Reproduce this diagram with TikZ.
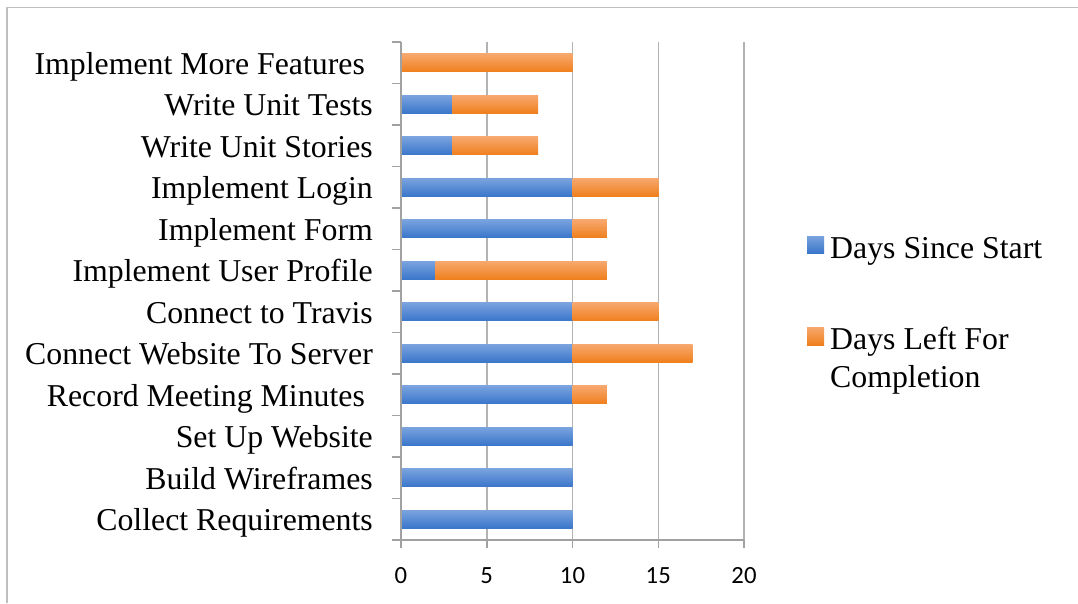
\documentclass[tikz,border=0pt]{standalone}
\usepackage{fontspec}
\setmainfont{Liberation Serif}
\newfontfamily\tickfont{Carlito}
\definecolor{gridgray}{HTML}{B3B3B3}
\definecolor{framegray}{HTML}{BFBFBF}
\definecolor{blueT}{HTML}{7AA3DE}
\definecolor{blueB}{HTML}{3A76CA}
\definecolor{orangeT}{HTML}{F7A86E}
\definecolor{orangeB}{HTML}{EF7F1C}
\begin{document}
\begin{tikzpicture}[x=1pt,y=-1pt,
  lbl/.style={anchor=base east, inner sep=0pt, font=\fontsize{31.8}{38}\selectfont},
  leglbl/.style={anchor=base west, inner sep=0pt, font=\fontsize{31.8}{38}\selectfont},
  ticklbl/.style={anchor=base, inner sep=0pt, font=\tickfont\fontsize{24.7}{30}\selectfont},
  bluebar/.style={top color=blueT, bottom color=blueB, draw=none},
  orangebar/.style={top color=orangeT, bottom color=orangeB, draw=none},
  gridln/.style={draw=gridgray, line width=1.5pt},
  axisln/.style={draw=gridgray!90!black, line width=1.5pt}]
\useasboundingbox (0,0) rectangle (1078,603);
\fill[white] (0,0) rectangle (1078,603);
% frame
\draw[framegray, line width=1.6pt] (7,603) -- (7,7.5) -- (1078,7.5);
% vertical gridlines
\foreach \v in {5,10,15,20}
  \draw[gridln] ({401+17.15*\v},42) -- ({401+17.15*\v},540);
% blue bars (row index / value)
\foreach \i/\b in {1/3,2/3,3/10,4/10,5/2,6/10,7/10,8/10,9/10,10/10,11/10}
  \path[bluebar] (401,{42+41.5*(\i+0.5)-9}) rectangle ({401+17.15*\b},{42+41.5*(\i+0.5)+9});
% orange bars (row index / start / length)
\foreach \i/\b/\o in {0/0/10,1/3/5,2/3/5,3/10/5,4/10/2,5/2/10,6/10/5,7/10/7,8/10/2}
  \path[orangebar] ({401+17.15*\b},{42+41.5*(\i+0.5)-9}) rectangle ({401+17.15*(\b+\o)},{42+41.5*(\i+0.5)+9});
% axes
\draw[axisln] (401,42) -- (401,540) -- (744,540);
\foreach \k in {0,...,12}
  \draw[axisln] (392,{42+41.5*\k}) -- (401,{42+41.5*\k});
\foreach \v in {0,5,10,15,20}
  \draw[axisln] ({401+17.15*\v},540) -- ({401+17.15*\v},548);
% tick labels
\foreach \v in {0,5,10,15,20}
  \node[ticklbl] (t\v) at ({401+17.15*\v},583) {\v};
% category labels
\node[lbl] (l0) at (373,{62.75+11.5}) {Implement More Features\kern0.25em\null};
\node[lbl] (l1) at (373,{104.25+11.5}) {Write Unit Tests};
\node[lbl] (l2) at (373,{145.75+11.5}) {Write Unit Stories};
\node[lbl] (l3) at (373,{187.25+11.5}) {Implement Login};
\node[lbl] (l4) at (373,{228.75+11.5}) {Implement Form};
\node[lbl] (l5) at (373,{270.25+11.5}) {Implement User Profile};
\node[lbl] (l6) at (373,{311.75+11.5}) {Connect to Travis};
\node[lbl] (l7) at (373,{353.25+11.5}) {Connect Website To Server};
\node[lbl] (l8) at (373,{394.75+11.5}) {Record Meeting Minutes\kern0.25em\null};
\node[lbl] (l9) at (373,{436.25+11.5}) {Set Up Website};
\node[lbl] (l10) at (373,{477.75+11.5}) {Build Wireframes};
\node[lbl] (l11) at (373,{519.25+11.5}) {Collect Requirements};
% legend
\path[bluebar] (807,236) rectangle (824,253);
\node[leglbl] (leg1) at (830,258) {Days Since Start};
\path[orangebar] (807,327) rectangle (824,345);
\node[leglbl] (leg2a) at (830,349) {Days Left For};
\node[leglbl] (leg2b) at (830,387) {Completion};
\end{tikzpicture}
\end{document}
